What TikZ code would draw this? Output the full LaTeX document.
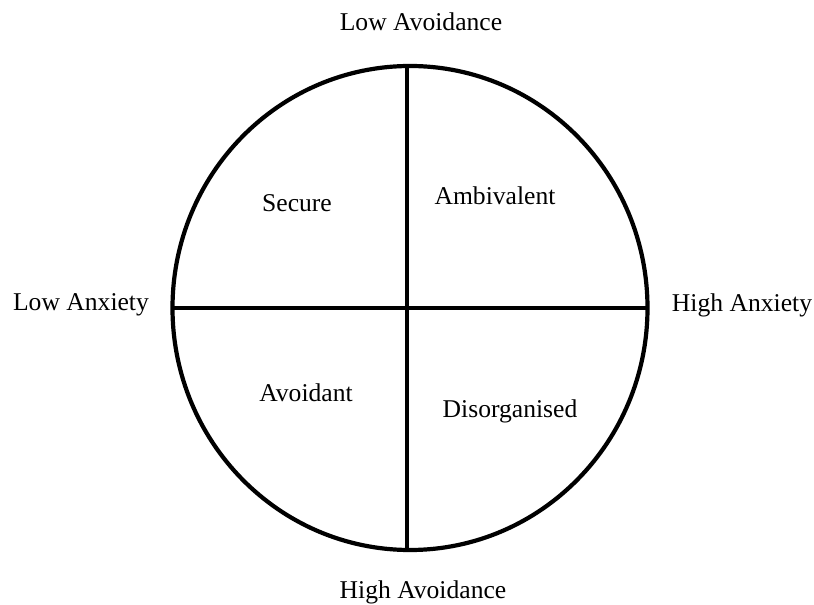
\documentclass[tikz,border=0pt]{standalone}
\usepackage{fontspec}
\setmainfont{Liberation Serif}
\begin{document}
\begin{tikzpicture}[x=1pt,y=1pt,
  lbl/.style={inner sep=0pt,font=\fontsize{25.6}{30}\selectfont},
  axis/.style={line width=4.2pt}]
\useasboundingbox (0,0) rectangle (814,605);
\fill[white] (0,0) rectangle (814,605);
\coordinate (c) at (410,297);
\coordinate (top) at (407,539);
\coordinate (bot) at (407,55);
\coordinate (left) at (173,297);
\coordinate (right) at (648,297);
\draw[axis] (c) ellipse [x radius=237.5, y radius=242];
\draw[axis] (top) -- (bot);
\draw[axis] (left) -- (right);
\node[lbl] (la) at (421,583) {Low Avoidance};
\node[lbl] (ha) at (423,13) {High Avoidance};
\node[lbl] (lx) at (81,300) {Low Anxiety};
\node[lbl] (hx) at (742,300) {High Anxiety};
\node[lbl] (sec) at (297,402) {Secure};
\node[lbl] (amb) at (495,409) {Ambivalent};
\node[lbl] (avo) at (306,212) {Avoidant};
\node[lbl] (dis) at (510,194) {Disorganised};
\end{tikzpicture}
\end{document}
